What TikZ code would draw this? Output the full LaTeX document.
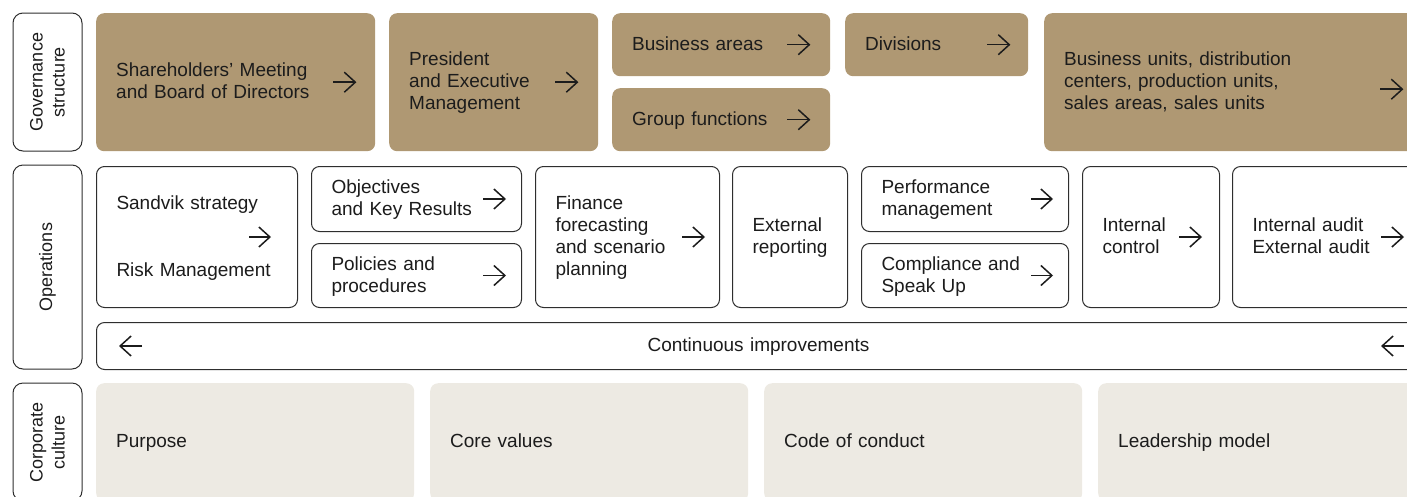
\documentclass[tikz,border=0pt]{standalone}
\usepackage{fontspec}
\setmainfont{Liberation Sans}
\usetikzlibrary{arrows.meta}
\definecolor{goldbox}{HTML}{AF9873}
\definecolor{sandbox}{HTML}{EDEAE3}
\definecolor{inkgray}{HTML}{1C1C1C}
\definecolor{edgegray}{HTML}{2E2E2E}
\tikzset{
  box/.style={anchor=north west, rounded corners=8pt, inner xsep=20pt, inner ysep=0pt,
    align=left, text=inkgray, font=\fontsize{19}{22}\selectfont,
    execute at begin node={\hyphenpenalty=10000\rule{0pt}{15.5pt}},
    execute at end node={\rule[-4pt]{0pt}{4pt}}},
  gold/.style={box, fill=goldbox},
  plain/.style={box, draw=edgegray, line width=1pt, fill=white},
  sand/.style={box, fill=sandbox},
  rowlabel/.style={draw=edgegray, line width=1pt, rounded corners=10pt, rotate=90,
    align=center, text=inkgray, font=\fontsize{18}{22}\selectfont, inner sep=0pt,
    minimum height=69pt},
  arr/.style={-{Straight Barb[length=11pt,width=20pt]}, line width=1.5pt, draw=inkgray}
}
\begin{document}
\begin{tikzpicture}[x=1pt,y=-1pt]
  \useasboundingbox (0,0) rectangle (1407,496);
  \clip (0,0) rectangle (1407,496);

  % row labels
  \node[rowlabel, minimum width=138pt] (gov) at (47.5,82) {Governance\\structure};
  \node[rowlabel, minimum width=204pt] (ops) at (47.5,267) {Operations};
  \node[rowlabel, minimum width=118pt] (corp) at (47.5,442) {Corporate\\culture};

  % governance structure
  \node[gold, text width=239pt, minimum height=138pt] (share) at (96,13) {Shareholders’ Meeting\\and Board of Directors};
  \node[gold, text width=169pt, minimum height=138pt] (pres) at (389,13) {President\\and Executive\\Management};
  \node[gold, text width=178pt, minimum height=63pt] (barea) at (612,13) {Business areas};
  \node[gold, text width=178pt, minimum height=63pt] (gfun) at (612,88) {Group functions};
  \node[gold, text width=143pt, minimum height=63pt] (divs) at (845,13) {Divisions};
  \node[gold, text width=336pt, minimum height=138pt] (bunit) at (1044,13) {Business units, distribution\\centers, production units,\\sales areas, sales units};

  \draw[arr] ([xshift=-42pt]share.east) -- ([xshift=-19pt]share.east);
  \draw[arr] ([xshift=-43pt]pres.east) -- ([xshift=-20pt]pres.east);
  \draw[arr] ([xshift=-43pt]barea.east) -- ([xshift=-20pt]barea.east);
  \draw[arr] ([xshift=-43pt]gfun.east) -- ([xshift=-20pt]gfun.east);
  \draw[arr] ([xshift=-41pt]divs.east) -- ([xshift=-18pt]divs.east);
  \draw[arr] ([xshift=-40pt,yshift=-7pt]bunit.east) -- ([xshift=-17pt,yshift=-7pt]bunit.east);

  % operations
  \node[plain, text width=161pt, minimum height=141pt] (strat) at (96,166) {Sandvik strategy\\[45pt]Risk Management};
  \node[plain, text width=170pt, minimum height=65pt] (okr) at (311,166) {Objectives\\and Key Results};
  \node[plain, text width=170pt, minimum height=64pt] (policy) at (311,243) {Policies and\\procedures};
  \node[plain, text width=144pt, minimum height=141pt] (fin) at (535,166) {Finance\\forecasting\\and scenario\\planning};
  \node[plain, text width=75pt, minimum height=141pt] (extrep) at (732,166) {External\\reporting};
  \node[plain, text width=167pt, minimum height=65pt] (perf) at (861,166) {Performance\\management};
  \node[plain, text width=167pt, minimum height=64pt] (compl) at (861,243) {Compliance and\\Speak Up};
  \node[plain, text width=97pt, minimum height=141pt] (intctl) at (1082,166) {Internal\\control};
  \node[plain, text width=148pt, minimum height=141pt] (audit) at (1232,166) {Internal audit\\External audit};
  \node[plain, text width=1284pt, minimum height=47pt, align=center] (cont) at (96,322) {Continuous improvements};

  \draw[arr] ([xshift=-49pt]strat.east) -- ([xshift=-27pt]strat.east);
  \draw[arr] ([xshift=-39pt]okr.east) -- ([xshift=-16pt]okr.east);
  \draw[arr] ([xshift=-39pt]policy.east) -- ([xshift=-16pt]policy.east);
  \draw[arr] ([xshift=-38pt]fin.east) -- ([xshift=-15pt]fin.east);
  \draw[arr] ([xshift=-38pt]perf.east) -- ([xshift=-16pt]perf.east);
  \draw[arr] ([xshift=-38pt]compl.east) -- ([xshift=-16pt]compl.east);
  \draw[arr] ([xshift=-41pt]intctl.east) -- ([xshift=-18pt]intctl.east);
  \draw[arr] ([xshift=-40pt]audit.east) -- ([xshift=-17pt]audit.east);
  \draw[arr] ([xshift=46pt]cont.west) -- ([xshift=23pt]cont.west);
  \draw[arr] ([xshift=-17pt]cont.east) -- ([xshift=-40pt]cont.east);

  % corporate culture
  \node[sand, text width=278pt, minimum height=118pt] (purpose) at (96,383) {Purpose};
  \node[sand, text width=278pt, minimum height=118pt] (core) at (430,383) {Core values};
  \node[sand, text width=278pt, minimum height=118pt] (code) at (764,383) {Code of conduct};
  \node[sand, text width=278pt, minimum height=118pt] (lead) at (1098,383) {Leadership model};
\end{tikzpicture}
\end{document}
